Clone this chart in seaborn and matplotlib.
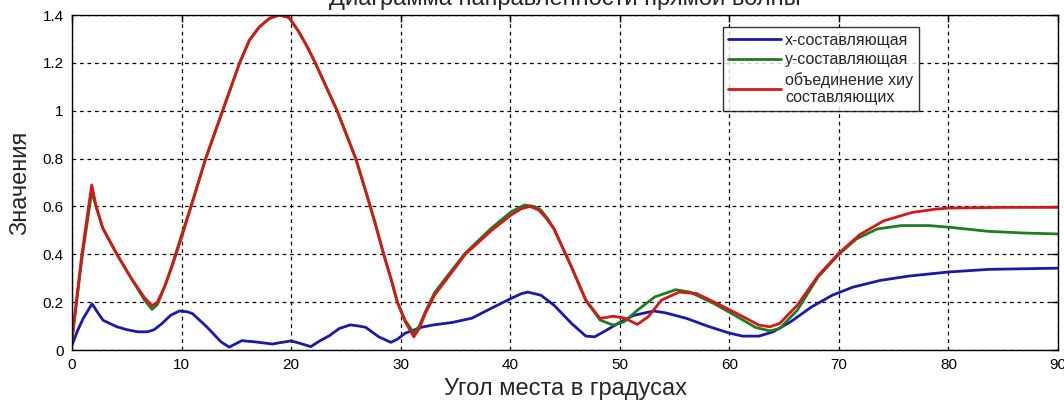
import numpy as np
import pandas as pd
import matplotlib
matplotlib.use("Agg")
import matplotlib.pyplot as plt
import seaborn as sns

# ---- data ----
x_blue = [0, 0.5, 1.0, 1.83, 2.3, 2.84, 4.1, 5.0, 6.0, 6.9, 7.5, 8.2, 9.0, 9.8, 10.5, 11.0,
          12.3, 13.6, 14.35, 15.5, 16.7, 18.3, 18.9, 20.0, 20.8, 21.8, 22.5, 23.5, 24.4, 25.4,
          26.2, 26.8, 28.0, 29.1, 29.7, 30.4, 31.9, 33.0, 34.7, 36.5, 38.3, 40.1, 41.0, 41.6,
          42.8, 44.0, 45.6, 46.9, 47.7, 48.8, 50.1, 51.3, 53.1, 54.2, 56.1, 58.0, 59.9, 61.2,
          62.7, 64.0, 65.6, 67.5, 69.4, 71.3, 73.8, 76.4, 80.0, 83.7, 90.0]
y_blue = [0.02, 0.08, 0.13, 0.193, 0.16, 0.124, 0.097, 0.085, 0.076, 0.076, 0.085, 0.11,
          0.145, 0.163, 0.16, 0.152, 0.097, 0.034, 0.012, 0.039, 0.034, 0.025, 0.03, 0.038,
          0.028, 0.014, 0.035, 0.06, 0.09, 0.105, 0.10, 0.095, 0.055, 0.032, 0.045, 0.07,
          0.095, 0.105, 0.115, 0.133, 0.175, 0.216, 0.235, 0.242, 0.229, 0.187, 0.111, 0.058,
          0.055, 0.083, 0.118, 0.145, 0.163, 0.155, 0.132, 0.10, 0.072, 0.058, 0.058, 0.076,
          0.118, 0.18, 0.229, 0.263, 0.291, 0.309, 0.326, 0.337, 0.342]

x_green = [0, 0.9, 1.8, 2.2, 2.8, 4.1, 5.4, 6.6, 7.3, 7.8, 8.5, 9.1, 10.0, 11.0, 12.2, 13.75,
           15.3, 16.2, 17.1, 18.0, 18.9, 19.8, 20.7, 21.5, 22.2, 24.2, 25.9, 26.9, 27.7, 28.45,
           29.1, 29.7, 30.4, 31.2, 31.7, 32.25, 33.1, 34.1, 35.9, 38.3, 40.1, 41.3, 42.2, 42.8,
           43.4, 44.0, 45.6, 46.9, 48.2, 49.4, 50.4, 51.6, 53.2, 55.1, 56.4, 58.6, 60.5, 62.4,
           63.7, 64.6, 66.2, 68.1, 70.0, 71.6, 73.5, 75.7, 78.2, 80.1, 83.6, 86.8, 90.0]
y_green = [0.04, 0.38, 0.66, 0.60, 0.51, 0.40, 0.30, 0.21, 0.17, 0.19, 0.27, 0.35, 0.48, 0.62,
           0.80, 1.0, 1.2, 1.295, 1.35, 1.385, 1.40, 1.39, 1.33, 1.265, 1.2, 1.0, 0.8, 0.65,
           0.525, 0.40, 0.30, 0.20, 0.125, 0.07, 0.10, 0.16, 0.24, 0.30, 0.405, 0.51, 0.578,
           0.606, 0.60, 0.585, 0.55, 0.506, 0.346, 0.208, 0.125, 0.104, 0.118, 0.166, 0.222,
           0.252, 0.242, 0.194, 0.145, 0.094, 0.08, 0.09, 0.166, 0.305, 0.40, 0.464, 0.506,
           0.52, 0.52, 0.513, 0.496, 0.489, 0.485]

x_red = [0, 0.9, 1.8, 2.2, 2.8, 4.1, 5.4, 6.6, 7.3, 7.8, 8.5, 9.1, 10.0, 11.0, 12.2, 13.75,
         15.3, 16.2, 17.1, 18.0, 18.9, 19.8, 20.7, 21.5, 22.2, 24.2, 25.9, 26.9, 27.7, 28.45,
         29.1, 29.7, 30.4, 31.2, 31.7, 32.25, 33.1, 34.1, 35.9, 38.3, 40.1, 41.0, 41.8, 42.6,
         43.3, 44.0, 45.6, 46.9, 48.2, 49.4, 50.4, 51.6, 52.6, 53.8, 55.4, 57.0, 58.9, 60.8,
         62.7, 63.7, 64.6, 66.2, 68.1, 70.0, 71.9, 74.1, 76.7, 78.9, 80.0, 85.0, 90.0]
y_red = [0.05, 0.40, 0.69, 0.60, 0.51, 0.40, 0.30, 0.22, 0.185, 0.20, 0.27, 0.345, 0.47, 0.62,
         0.80, 1.0, 1.2, 1.295, 1.35, 1.385, 1.40, 1.39, 1.33, 1.265, 1.2, 1.0, 0.8, 0.65,
         0.525, 0.40, 0.30, 0.20, 0.12, 0.055, 0.09, 0.153, 0.23, 0.29, 0.40, 0.50, 0.565,
         0.59, 0.60, 0.585, 0.55, 0.506, 0.346, 0.208, 0.132, 0.141, 0.134, 0.107, 0.139,
         0.208, 0.242, 0.236, 0.194, 0.15, 0.104, 0.097, 0.111, 0.187, 0.31, 0.405, 0.482,
         0.54, 0.575, 0.589, 0.593, 0.596, 0.596]

labels = ["х-составляющая", "у-составляющая", "объединение хиу\nсоставляющих"]
colors = ["#1a1aa8", "#1e7d1e", "#d41818"]
x_ticks = [0, 10, 20, 30, 40, 50, 60, 70, 80, 90]
y_ticks = [0, 0.2, 0.4, 0.6, 0.8, 1.0, 1.2, 1.4]
y_tick_labels = ["0", "0.2", "0.4", "0.6", "0.8", "1", "1.2", "1.4"]
title = "Диаграмма направленности прямой волны"

sns.set_theme(style="white")
plt.rcParams["font.family"] = ["Liberation Sans", "DejaVu Sans"]

fig = plt.figure(figsize=(10.64, 4.05), dpi=100)
ax = fig.add_axes([72 / 1064, 55 / 405, 986 / 1064, 335 / 405])

for xs, ys, lab, col in zip([x_blue, x_green, x_red], [y_blue, y_green, y_red], labels, colors):
    df = pd.DataFrame({"x": xs, "y": ys})
    sns.lineplot(data=df, x="x", y="y", ax=ax, color=col, linewidth=2.0, label=lab,
                 estimator=None, sort=False)

ax.set_xlim(0, 90)
ax.set_ylim(0, 1.4)
ax.set_xticks(x_ticks)
ax.set_xticklabels([str(t) for t in x_ticks])
ax.set_yticks(y_ticks)
ax.set_yticklabels(y_tick_labels)
ax.tick_params(axis="both", direction="in", length=5, width=1, colors="black",
               labelsize=11, top=True, right=True, pad=6)
ax.grid(True, color="black", linestyle=(0, (3, 3)), linewidth=0.9)
for sp in ax.spines.values():
    sp.set_color("black")
    sp.set_linewidth(1.0)

ax.set_xlabel("Угол места в градусах", fontsize=17, labelpad=4)
ax.set_ylabel("Значения", fontsize=17, labelpad=8)

leg = ax.legend(loc="upper left", bbox_to_anchor=(0.652, 0.988), fontsize=11.5,
                frameon=True, fancybox=False, edgecolor="black", handlelength=3.3,
                borderpad=0.35, labelspacing=0.3, handletextpad=0.25)
leg.get_frame().set_linewidth(1.0)

fig.text((72 + 493) / 1064, 1 - 5 / 405, title,
         ha="center", va="baseline", fontsize=17)

fig.savefig("out.png", dpi=100)
